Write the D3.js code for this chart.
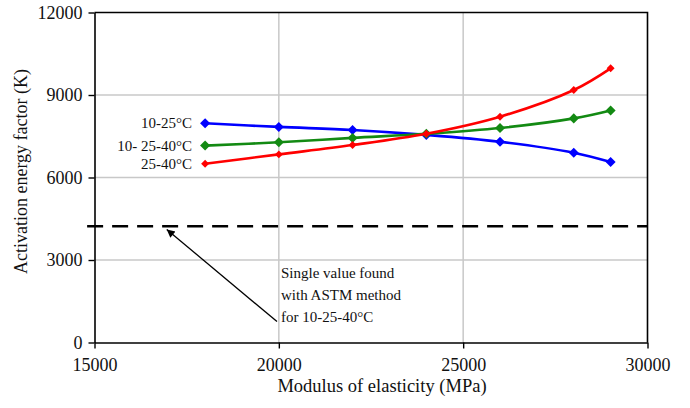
<!DOCTYPE html>
<html>
<head>
<meta charset="utf-8">
<script src="https://cdn.jsdelivr.net/npm/d3@7"></script>
<style>
  html, body { margin: 0; padding: 0; background: #fff; }
  svg { display: block; }
  svg text { font-family: "Liberation Serif", "Times New Roman", Times, serif; }
</style>
</head>
<body>
<svg id="chart" width="690" height="408"></svg>
<script>
// Modulus of elasticity (MPa) at which the activation energy factor was evaluated
const modulus = [18000, 20000, 22000, 24000, 26000, 28000, 29000];

// Activation energy factor (K) for each temperature range
const seriesNames = ["10-25°C", "10- 25-40°C", "25-40°C"];
const series1025 = [7970, 7840, 7730, 7550, 7300, 6900, 6560];
const series102540 = [7160, 7280, 7440, 7590, 7800, 8150, 8440];
const series2540 = [6500, 6840, 7180, 7590, 8210, 9180, 9970];
const seriesColors = ["#0000ff", "#138a13", "#ff0000"];

// Single ASTM value for 10-25-40°C, drawn as a dashed reference across the plot
const astmValue = 4230;
const astmExtent = [14800, 30000];

// Axis ticks
const xTicks = [15000, 20000, 25000, 30000];
const yTicks = [0, 3000, 6000, 9000, 12000];

// Annotation text and arrow (data units)
const noteLines = ["Single value found", "with ASTM method", "for 10-25-40°C"];
const noteX = 20060;
const noteYs = [2340, 1550, 760];
const arrowFrom = [19950, 760];
const arrowTo = [16960, 4110];

const FONT = "Liberation Serif";
const svg = d3.select("#chart").attr("font-family", FONT);
const margin = { left: 94.5, right: 42.5, top: 12.5, bottom: 65.5 };
const W = 690, H = 408;

const x = d3.scaleLinear().domain([15000, 30000]).range([margin.left, W - margin.right]);
const y = d3.scaleLinear().domain([0, 12000]).range([H - margin.bottom, margin.top]);

// Grid lines
const grid = svg.append("g");
grid.selectAll("line.gx").data(xTicks.slice(1, -1)).enter().append("line")
  .attr("x1", d => x(d)).attr("x2", d => x(d))
  .attr("y1", y(0)).attr("y2", y(12000))
  .attr("stroke", "#c8c8c8").attr("stroke-width", 1.5);
grid.selectAll("line.gy").data(yTicks.slice(1, -1)).enter().append("line")
  .attr("x1", x(15000)).attr("x2", x(30000))
  .attr("y1", d => y(d)).attr("y2", d => y(d))
  .attr("stroke", "#c8c8c8").attr("stroke-width", 1.5);

// Frame (top and right sides)
svg.append("path")
  .attr("d", `M${x(15000)},${y(12000)}H${x(30000)}V${y(0)}`)
  .attr("fill", "none").attr("stroke", "#000").attr("stroke-width", 1.6);

// Axes
const xAxis = svg.append("g")
  .attr("transform", `translate(0,${y(0)})`)
  .call(d3.axisBottom(x).tickValues(xTicks).tickFormat(d3.format("d")).tickSize(6).tickPadding(10).tickSizeOuter(0));
const yAxis = svg.append("g")
  .attr("transform", `translate(${x(15000)},0)`)
  .call(d3.axisLeft(y).tickValues(yTicks).tickFormat(d3.format("d")).tickSize(6).tickPadding(6).tickSizeOuter(0));
[xAxis, yAxis].forEach(a => {
  a.attr("font-family", FONT).attr("font-size", 18);
  a.select(".domain").attr("stroke", "#000").attr("stroke-width", 1.6);
  a.selectAll(".tick line").attr("stroke", "#000").attr("stroke-width", 1.4);
  a.selectAll(".tick text").attr("fill", "#111").attr("font-family", FONT).attr("font-size", 18);
});

// Axis titles
svg.append("text")
  .attr("x", (x(15000) + x(30000)) / 2 + 11).attr("y", 392)
  .attr("text-anchor", "middle").attr("fill", "#111")
  .attr("font-family", FONT).attr("font-size", 18.5)
  .text("Modulus of elasticity (MPa)");
svg.append("text")
  .attr("transform", `translate(27,${(y(0) + y(12000)) / 2 - 6}) rotate(-90)`)
  .attr("text-anchor", "middle").attr("fill", "#111")
  .attr("font-family", FONT).attr("font-size", 18)
  .text("Activation energy factor (K)");

// ASTM dashed reference line
svg.append("line")
  .attr("x1", x(astmExtent[0])).attr("x2", x(astmExtent[1]))
  .attr("y1", y(astmValue)).attr("y2", y(astmValue))
  .attr("stroke", "#000").attr("stroke-width", 2.6)
  .attr("stroke-dasharray", "16,9");

// Series lines and diamond markers
const allSeries = [series1025, series102540, series2540];
const line = d3.line().x(d => x(d[0])).y(d => y(d[1])).curve(d3.curveCatmullRom.alpha(0.5));
const markerSizes = [64, 64, 40];
allSeries.forEach((vals, i) => {
  const pts = modulus.map((m, j) => [m, vals[j]]);
  const g = svg.append("g");
  g.append("path").datum(pts)
    .attr("d", line).attr("fill", "none")
    .attr("stroke", seriesColors[i]).attr("stroke-width", 2.6);
  g.selectAll("path.m").data(pts).enter().append("path")
    .attr("transform", d => `translate(${x(d[0])},${y(d[1])})`)
    .attr("d", d3.symbol(d3.symbolDiamond2, markerSizes[i]))
    .attr("fill", seriesColors[i]);
  g.append("text")
    .attr("x", x(modulus[0]) - 13).attr("y", y(vals[0]) + 5)
    .attr("text-anchor", "end").attr("fill", "#111")
    .attr("font-family", FONT).attr("font-size", 15)
    .text(seriesNames[i]);
});

// Annotation arrow and text
svg.append("defs").append("marker")
  .attr("id", "arrowHead").attr("viewBox", "0 0 10 10")
  .attr("refX", 10).attr("refY", 5)
  .attr("markerWidth", 11).attr("markerHeight", 8)
  .attr("markerUnits", "userSpaceOnUse")
  .attr("orient", "auto")
  .append("path").attr("d", "M0,0L10,5L0,10Z").attr("fill", "#000");
svg.append("line")
  .attr("x1", x(arrowFrom[0])).attr("y1", y(arrowFrom[1]))
  .attr("x2", x(arrowTo[0])).attr("y2", y(arrowTo[1]))
  .attr("stroke", "#000").attr("stroke-width", 1.3)
  .attr("marker-end", "url(#arrowHead)");
svg.selectAll("text.note").data(noteLines).enter().append("text")
  .attr("x", x(noteX)).attr("y", (d, i) => y(noteYs[i]))
  .attr("fill", "#111").attr("font-family", FONT).attr("font-size", 15)
  .text(d => d);
</script>
</body>
</html>
